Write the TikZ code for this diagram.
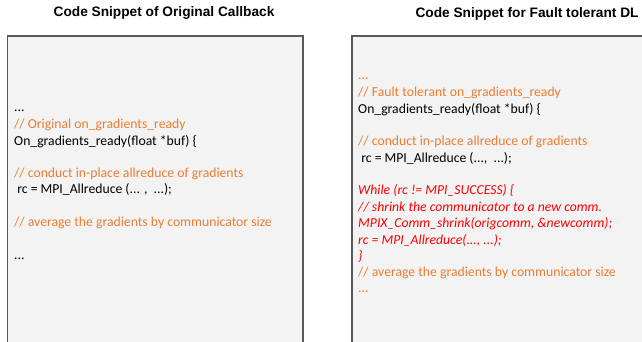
\documentclass[tikz,border=0pt]{standalone}
\usepackage{fontspec}
\setmainfont{Carlito}
\newfontfamily\titlefont{Liberation Sans}
\definecolor{boxfill}{HTML}{F3F3F3}
\definecolor{boxline}{HTML}{595959}
\definecolor{cmt}{HTML}{ED7D31}
\definecolor{hot}{HTML}{FF0000}
\begin{document}
\begin{tikzpicture}[x=1pt,y=-1pt,
  panel/.style={draw=boxline,line width=1.4pt,fill=boxfill},
  ttl/.style={font=\titlefont\bfseries\fontsize{13.7}{15}\selectfont,anchor=center,inner sep=0pt},
  codeline/.style={font=\fontsize{13.7}{15}\selectfont,anchor=mid west,inner sep=0pt,text=black,yshift=-2pt},
  cmtline/.style={codeline,text=cmt},
  hotline/.style={codeline,text=hot,font=\fontsize{13.7}{15}\selectfont\itshape}]
\useasboundingbox (0,0) rectangle (642,341);
\fill[white] (0,0) rectangle (642,341);
\path[panel] (7.5,343) -- (7.5,36) -- (303,36) -- (303,343);
\path[panel] (352,343) -- (352,36) -- (645,36) -- (645,343);
\node[ttl] (t1) at (164,13) {Code Snippet of Original Callback};
\node[ttl] (t2) at (527,14) {Code Snippet for Fault tolerant DL};
% left
\node[codeline] (l1) at (14,107) {...};
\node[cmtline] (l2) at (14,124) {// Original on\_gradients\_ready};
\node[codeline] (l3) at (14,141) {On\_gradients\_ready(float *buf) \{};
\node[cmtline] (l4) at (14,173) {// conduct in-place allreduce of gradients};
\node[codeline] (l5) at (14,189) {\ rc = MPI\_Allreduce (... ,\ \ ...);};
\node[cmtline] (l6) at (14,222) {// average the gradients by communicator size};
\node[codeline] (l7) at (14,255) {...};
% right
\node[cmtline] (r1) at (358,75) {...};
\node[cmtline] (r2) at (358,92) {// Fault tolerant on\_gradients\_ready};
\node[codeline] (r3) at (358,109) {On\_gradients\_ready(float *buf) \{};
\node[cmtline] (r4) at (358,141) {// conduct in-place allreduce of gradients};
\node[codeline] (r5) at (358,158) {\ rc = MPI\_Allreduce (...,\ \ ...);};
\node[hotline] (r6) at (358,190) {While (rc != MPI\_SUCCESS) \{};
\node[hotline] (r7) at (358,207) {// shrink the communicator to a new comm.};
\node[hotline] (r8) at (358,223) {MPIX\_Comm\_shrink(origcomm, \&newcomm);};
\node[hotline] (r9) at (358,240) {rc = MPI\_Allreduce(..., ...);};
\node[hotline] (r10) at (358,256) {\}};
\node[cmtline] (r11) at (358,272) {// average the gradients by communicator size};
\node[cmtline] (r12) at (358,288) {...};
\end{tikzpicture}
\end{document}
